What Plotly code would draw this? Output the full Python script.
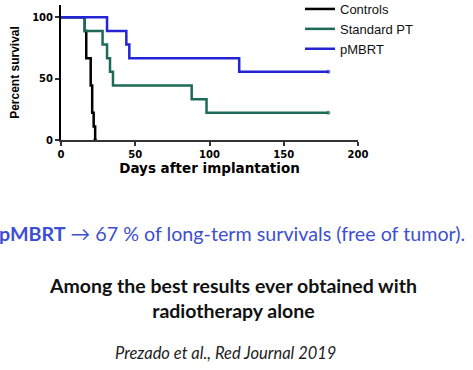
import plotly.graph_objects as go

controls_days = [0, 16, 17, 20, 21, 22, 23]
controls_surv = [100, 88.9, 66.7, 44.4, 22.2, 11.1, 0]
std_days = [0, 16, 28, 31, 33, 35, 88, 98, 180]
std_surv = [100, 88.9, 77.8, 66.7, 55.6, 44.4, 33.3, 22.2, 22.2]
pmbrt_days = [0, 31, 44, 46, 120, 180]
pmbrt_surv = [100, 88.9, 77.8, 66.7, 55.6, 55.6]

series_names = ["Controls", "Standard PT", "pMBRT"]
colors = ["#000000", "#1d6b57", "#2424d4"]

x_ticks = [0, 50, 100, 150, 200]
y_ticks = [0, 50, 100]

fig = go.Figure()
for name, xs, ys, c in zip(series_names, [controls_days, std_days, pmbrt_days],
                           [controls_surv, std_surv, pmbrt_surv], colors):
    sizes = [0] * (len(xs) - 1) + [4]
    fig.add_trace(go.Scatter(
        x=xs, y=ys, name=name, mode="lines+markers",
        line=dict(color=c, width=2.5, shape="hv"),
        marker=dict(color=c, size=sizes, line=dict(width=0)),
    ))

axis_font = "DejaVu Sans, Liberation Sans, sans-serif"

fig.update_layout(
    width=473, height=370,
    margin=dict(l=61, r=115, t=5, b=230, autoexpand=False),
    paper_bgcolor="white", plot_bgcolor="white",
    font=dict(family="Liberation Sans, Arial, sans-serif", color="#000"),
    showlegend=True,
    legend=dict(x=(300 - 61) / 297, y=(140 + 6) / 135, xanchor="left", yanchor="top",
                font=dict(size=13, color="#111"), itemwidth=30,
                tracegroupgap=0, bgcolor="rgba(0,0,0,0)"),
    xaxis=dict(range=[0, 200], tickvals=x_ticks, automargin=False,
               ticktext=[f"<b>{v}</b>" for v in x_ticks],
               showgrid=False, zeroline=False, showline=True,
               linecolor="#333", linewidth=2, ticks="outside", ticklen=4,
               tickwidth=1.5, tickcolor="#333",
               tickfont=dict(size=10, family=axis_font),
               title=dict(text="<b>Days after implantation</b>",
                          font=dict(size=13.5, family=axis_font), standoff=5)),
    yaxis=dict(range=[0, 110], tickvals=y_ticks, automargin=False,
               ticktext=[f"<b>{v}</b>" for v in y_ticks],
               showgrid=False, zeroline=False, showline=True,
               linecolor="#000", linewidth=2, ticks="outside", ticklen=4,
               tickwidth=1.5, tickcolor="#333",
               tickfont=dict(size=10, family=axis_font),
               title=dict(text="<b>Percent survival</b>",
                          font=dict(size=12), standoff=10)),
)

def py(p):
    return (140 - p) / 135.0

fig.add_annotation(xref="paper", yref="paper", x=(232 - 61) / 297.0, y=py(233),
                   xanchor="center", yanchor="middle", showarrow=False,
                   text="<b>pMBRT</b> \u2192 67 % of long-term survivals (free of tumor).",
                   font=dict(family="Lato, Open Sans, sans-serif", size=19.7, color="#3d4fd1"))
fig.add_annotation(xref="paper", yref="paper", x=(233 - 61) / 297.0, y=py(298),
                   xanchor="center", yanchor="middle", showarrow=False,
                   text="<b>Among the best results ever obtained with<br>radiotherapy alone</b>",
                   font=dict(family="Lato, Open Sans, sans-serif", size=19.5, color="#111"))
fig.add_annotation(xref="paper", yref="paper", x=(225 - 61) / 297.0, y=py(353),
                   xanchor="center", yanchor="middle", showarrow=False,
                   text="<i>Prezado et al., Red Journal 2019</i>",
                   font=dict(family="Lato, Open Sans, sans-serif", size=16.5, color="#222"))

fig.write_html("out.html", config={"displayModeBar": False},
               post_script="document.body.style.margin='0';document.body.style.overflow='hidden';")
